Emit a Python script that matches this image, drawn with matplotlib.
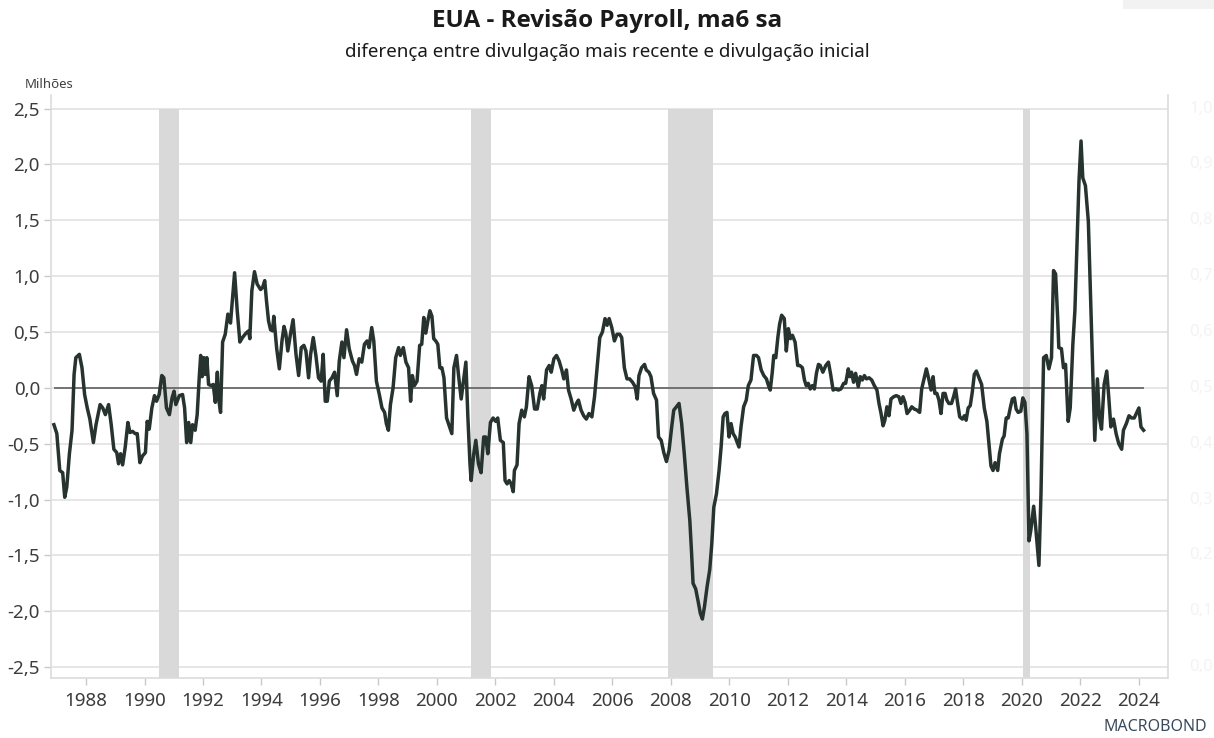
import matplotlib
matplotlib.use("Agg")
import matplotlib.pyplot as plt
from matplotlib.patches import Rectangle
import numpy as np

plt.rcParams['font.family'] = ['Noto Sans', 'DejaVu Sans']

# data (decimal year, millions)
years = [
    1986.90, 1987.00, 1987.10, 1987.20, 1987.27, 1987.34, 1987.43, 1987.52, 1987.59, 1987.65,
    1987.77, 1987.86, 1987.95, 1988.04, 1988.13, 1988.25, 1988.34, 1988.48, 1988.57, 1988.66,
    1988.77, 1988.86, 1988.95, 1989.05, 1989.11, 1989.18, 1989.25, 1989.34, 1989.43, 1989.50,
    1989.59, 1989.68, 1989.75, 1989.84, 1989.93, 1990.03, 1990.09, 1990.16, 1990.25, 1990.34,
    1990.41, 1990.50, 1990.59, 1990.66, 1990.75, 1990.85, 1990.94, 1991.01, 1991.07, 1991.19,
    1991.30, 1991.37, 1991.44, 1991.51, 1991.58, 1991.64, 1991.73, 1991.80, 1991.87, 1991.92,
    1991.97, 1992.03, 1992.08, 1992.13, 1992.19, 1992.28, 1992.35, 1992.42, 1992.49, 1992.53,
    1992.60, 1992.67, 1992.76, 1992.85, 1992.94, 1993.01, 1993.08, 1993.17, 1993.26, 1993.35,
    1993.47, 1993.56, 1993.60, 1993.67, 1993.76, 1993.85, 1993.97, 1994.04, 1994.11, 1994.17,
    1994.24, 1994.31, 1994.38, 1994.42, 1994.52, 1994.61, 1994.70, 1994.77, 1994.83, 1994.90,
    1994.99, 1995.08, 1995.18, 1995.27, 1995.36, 1995.45, 1995.52, 1995.61, 1995.68, 1995.77,
    1995.86, 1995.95, 1996.04, 1996.11, 1996.18, 1996.25, 1996.32, 1996.41, 1996.50, 1996.59,
    1996.66, 1996.75, 1996.82, 1996.91, 1997.00, 1997.11, 1997.18, 1997.25, 1997.34, 1997.43,
    1997.52, 1997.61, 1997.68, 1997.77, 1997.84, 1997.93, 1998.03, 1998.12, 1998.21, 1998.27,
    1998.34, 1998.41, 1998.50, 1998.59, 1998.69, 1998.75, 1998.85, 1998.94, 1999.03, 1999.10,
    1999.16, 1999.23, 1999.32, 1999.41, 1999.48, 1999.55, 1999.62, 1999.69, 1999.76, 1999.83,
    1999.89, 1999.96, 2000.03, 2000.10, 2000.17, 2000.24, 2000.33, 2000.42, 2000.51, 2000.58,
    2000.67, 2000.74, 2000.83, 2000.92, 2000.99, 2001.06, 2001.13, 2001.17, 2001.26, 2001.33,
    2001.42, 2001.51, 2001.60, 2001.67, 2001.74, 2001.83, 2001.92, 2002.01, 2002.08, 2002.17,
    2002.27, 2002.33, 2002.40, 2002.47, 2002.54, 2002.61, 2002.65, 2002.74, 2002.81, 2002.90,
    2002.99, 2003.06, 2003.15, 2003.24, 2003.34, 2003.43, 2003.52, 2003.59, 2003.65, 2003.75,
    2003.84, 2003.91, 2004.00, 2004.09, 2004.18, 2004.27, 2004.34, 2004.43, 2004.50, 2004.59,
    2004.68, 2004.77, 2004.84, 2004.93, 2005.02, 2005.11, 2005.20, 2005.30, 2005.39, 2005.48,
    2005.57, 2005.66, 2005.75, 2005.82, 2005.89, 2005.98, 2006.07, 2006.16, 2006.25, 2006.32,
    2006.41, 2006.50, 2006.59, 2006.69, 2006.78, 2006.85, 2006.91, 2007.00, 2007.10, 2007.16,
    2007.25, 2007.32, 2007.41, 2007.51, 2007.58, 2007.67, 2007.76, 2007.85, 2007.94, 2008.03,
    2008.10, 2008.19, 2008.28, 2008.37, 2008.46, 2008.55, 2008.65, 2008.71, 2008.76, 2008.85,
    2008.94, 2009.01, 2009.08, 2009.15, 2009.24, 2009.33, 2009.40, 2009.47, 2009.56, 2009.65,
    2009.72, 2009.79, 2009.85, 2009.92, 2009.99, 2010.06, 2010.13, 2010.20, 2010.27, 2010.33,
    2010.40, 2010.49, 2010.58, 2010.65, 2010.74, 2010.83, 2010.93, 2011.00, 2011.09, 2011.18,
    2011.27, 2011.34, 2011.40, 2011.47, 2011.52, 2011.59, 2011.66, 2011.72, 2011.79, 2011.88,
    2011.95, 2012.02, 2012.09, 2012.16, 2012.25, 2012.34, 2012.41, 2012.50, 2012.57, 2012.63,
    2012.70, 2012.77, 2012.84, 2012.91, 2012.98, 2013.05, 2013.11, 2013.20, 2013.30, 2013.39,
    2013.46, 2013.55, 2013.64, 2013.73, 2013.82, 2013.91, 2013.98, 2014.07, 2014.12, 2014.18,
    2014.25, 2014.32, 2014.41, 2014.48, 2014.55, 2014.62, 2014.69, 2014.78, 2014.87, 2014.96,
    2015.05, 2015.12, 2015.19, 2015.26, 2015.32, 2015.39, 2015.46, 2015.53, 2015.62, 2015.71,
    2015.80, 2015.87, 2015.94, 2016.01, 2016.08, 2016.17, 2016.24, 2016.33, 2016.42, 2016.51,
    2016.58, 2016.65, 2016.74, 2016.83, 2016.90, 2016.97, 2017.03, 2017.10, 2017.17, 2017.24,
    2017.31, 2017.38, 2017.44, 2017.51, 2017.60, 2017.67, 2017.74, 2017.81, 2017.88, 2017.97,
    2018.04, 2018.10, 2018.17, 2018.24, 2018.31, 2018.38, 2018.45, 2018.54, 2018.63, 2018.72,
    2018.81, 2018.88, 2018.95, 2019.02, 2019.09, 2019.18, 2019.24, 2019.34, 2019.40, 2019.47,
    2019.54, 2019.61, 2019.68, 2019.75, 2019.81, 2019.88, 2019.97, 2020.04, 2020.11, 2020.18,
    2020.25, 2020.31, 2020.41, 2020.48, 2020.54, 2020.59, 2020.66, 2020.75, 2020.84, 2020.93,
    2021.02, 2021.09, 2021.16, 2021.23, 2021.27, 2021.36, 2021.43, 2021.50, 2021.59, 2021.66,
    2021.75, 2021.82, 2021.89, 2021.96, 2022.03, 2022.09, 2022.18, 2022.28, 2022.34, 2022.41,
    2022.50, 2022.59, 2022.66, 2022.73, 2022.82, 2022.91, 2022.98, 2023.05, 2023.14, 2023.23,
    2023.32, 2023.42, 2023.48, 2023.58, 2023.67, 2023.76, 2023.85, 2023.94, 2024.01, 2024.08,
    2024.17,
]
revision = [
    -0.33, -0.41, -0.74, -0.76, -0.98, -0.89, -0.59, -0.38, 0.12, 0.27,
    0.30, 0.18, -0.06, -0.18, -0.28, -0.49, -0.33, -0.15, -0.18, -0.24,
    -0.15, -0.33, -0.55, -0.58, -0.68, -0.59, -0.69, -0.53, -0.31, -0.40,
    -0.39, -0.41, -0.41, -0.67, -0.61, -0.58, -0.30, -0.37, -0.18, -0.07,
    -0.12, -0.06, 0.11, 0.09, -0.18, -0.24, -0.09, -0.03, -0.15, -0.07,
    -0.06, -0.18, -0.49, -0.31, -0.49, -0.33, -0.38, -0.24, 0.09, 0.29,
    0.10, 0.27, 0.12, 0.27, 0.03, 0.02, 0.03, -0.13, 0.14, -0.09,
    -0.22, 0.41, 0.48, 0.66, 0.58, 0.81, 1.03, 0.69, 0.41, 0.45,
    0.49, 0.51, 0.44, 0.87, 1.04, 0.93, 0.88, 0.90, 0.96, 0.78,
    0.60, 0.52, 0.51, 0.64, 0.35, 0.17, 0.42, 0.55, 0.49, 0.33,
    0.48, 0.61, 0.30, 0.11, 0.36, 0.38, 0.33, 0.09, 0.30, 0.45,
    0.29, 0.09, 0.06, 0.30, -0.12, -0.12, 0.06, 0.09, 0.14, -0.07,
    0.24, 0.41, 0.27, 0.52, 0.35, 0.24, 0.20, 0.12, 0.26, 0.23,
    0.39, 0.42, 0.36, 0.54, 0.42, 0.06, -0.06, -0.18, -0.22, -0.32,
    -0.38, -0.15, 0.00, 0.27, 0.36, 0.29, 0.36, 0.23, 0.18, -0.12,
    0.11, 0.02, 0.06, 0.38, 0.39, 0.63, 0.49, 0.60, 0.69, 0.64,
    0.44, 0.42, 0.39, 0.18, 0.18, 0.09, -0.27, -0.34, -0.41, 0.18,
    0.29, 0.11, -0.10, 0.09, 0.23, -0.27, -0.68, -0.83, -0.59, -0.47,
    -0.68, -0.76, -0.44, -0.44, -0.59, -0.31, -0.27, -0.30, -0.27, -0.47,
    -0.49, -0.83, -0.86, -0.83, -0.86, -0.93, -0.74, -0.69, -0.32, -0.20,
    -0.26, -0.17, 0.10, 0.02, -0.19, -0.19, -0.05, 0.02, -0.10, 0.16,
    0.20, 0.14, 0.26, 0.29, 0.24, 0.16, 0.08, 0.16, -0.02, -0.10,
    -0.20, -0.14, -0.11, -0.20, -0.25, -0.28, -0.23, -0.26, -0.08, 0.18,
    0.45, 0.50, 0.62, 0.56, 0.62, 0.54, 0.42, 0.48, 0.48, 0.45,
    0.18, 0.08, 0.08, 0.05, 0.01, -0.10, 0.11, 0.18, 0.21, 0.16,
    0.14, 0.10, -0.05, -0.11, -0.44, -0.47, -0.58, -0.66, -0.56, -0.35,
    -0.20, -0.17, -0.14, -0.32, -0.59, -0.89, -1.19, -1.48, -1.75, -1.80,
    -1.92, -2.02, -2.07, -1.96, -1.78, -1.63, -1.40, -1.07, -0.95, -0.74,
    -0.53, -0.26, -0.23, -0.22, -0.44, -0.32, -0.41, -0.44, -0.49, -0.53,
    -0.35, -0.17, -0.11, 0.02, 0.07, 0.29, 0.29, 0.27, 0.16, 0.11,
    0.08, 0.02, -0.02, 0.14, 0.29, 0.27, 0.45, 0.57, 0.65, 0.62,
    0.33, 0.53, 0.44, 0.47, 0.41, 0.20, 0.20, 0.18, 0.07, 0.02,
    0.04, -0.01, 0.02, -0.01, 0.13, 0.21, 0.20, 0.14, 0.20, 0.23,
    0.13, -0.02, -0.01, -0.02, -0.01, 0.04, 0.04, 0.17, 0.10, 0.14,
    0.05, 0.13, 0.01, 0.10, 0.07, 0.11, 0.08, 0.09, 0.07, 0.02,
    -0.02, -0.14, -0.23, -0.34, -0.29, -0.17, -0.25, -0.10, -0.08, -0.07,
    -0.08, -0.14, -0.08, -0.13, -0.23, -0.20, -0.17, -0.19, -0.20, -0.22,
    -0.01, 0.07, 0.17, 0.07, -0.02, 0.10, -0.05, -0.05, -0.11, -0.23,
    -0.05, -0.05, -0.11, -0.14, -0.14, -0.08, -0.01, -0.14, -0.26, -0.28,
    -0.25, -0.29, -0.18, -0.16, -0.04, 0.12, 0.15, 0.09, 0.03, -0.18,
    -0.30, -0.50, -0.70, -0.74, -0.67, -0.74, -0.59, -0.46, -0.43, -0.27,
    -0.27, -0.18, -0.10, -0.09, -0.19, -0.22, -0.21, -0.09, -0.13, -0.41,
    -1.37, -1.28, -1.06, -1.25, -1.43, -1.59, -0.95, 0.27, 0.29, 0.17,
    0.27, 1.05, 1.02, 0.63, 0.36, 0.35, 0.18, 0.21, -0.30, -0.18,
    0.39, 0.69, 1.26, 1.85, 2.21, 1.88, 1.81, 1.49, 0.96, 0.36,
    -0.47, 0.08, -0.27, -0.37, 0.03, 0.15, -0.09, -0.35, -0.28, -0.41,
    -0.50, -0.55, -0.38, -0.32, -0.25, -0.27, -0.27, -0.22, -0.18, -0.35,
    -0.38,
]

# NBER recessions
rec_start = [1990.50, 2001.17, 2007.90, 2020.05]
rec_end = [1991.17, 2001.86, 2009.45, 2020.28]

yticks = [2.5, 2.0, 1.5, 1.0, 0.5, 0.0, -0.5, -1.0, -1.5, -2.0, -2.5]
xticks = list(range(1988, 2025, 2))
ghost_ticks = [1.0, 0.9, 0.8, 0.7, 0.6, 0.5, 0.4, 0.3, 0.2, 0.1, 0.0]

line_col = '#26332f'
grid_col = '#e4e4e4'
text_col = '#3c3c3c'

fig = plt.figure(figsize=(12.14, 7.38), dpi=100)
ax = fig.add_axes([0.042, 0.081, 0.920, 0.790])
ylo, yhi = -2.6, 2.62
ax.set_xlim(1986.8, 2025.0)
ax.set_ylim(ylo, yhi)

for s, e in zip(rec_start, rec_end):
    ax.fill_betweenx([ylo, 2.5], s, e, color='#d9d9d9', lw=0, zorder=1)

for v in yticks:
    ax.axhline(v, color=grid_col, lw=1.3, zorder=0)
ax.hlines(0, years[0], years[-1], color='#555555', lw=1.1, zorder=2)
ax.plot(years, revision, color=line_col, lw=2.5, zorder=3, solid_joinstyle='round')

ax.set_yticks(yticks)
ax.set_yticklabels([f"{v:.1f}".replace('.', ',') for v in yticks])
ax.set_xticks(xticks)
ax.set_xticklabels([str(x) for x in xticks])
ax.tick_params(axis='both', colors='#c8c8c8', labelcolor=text_col, labelsize=13.5, length=5, width=1)
ax.tick_params(axis='y', pad=3)
ax.tick_params(axis='x', pad=5)

for side in ['left', 'bottom', 'right']:
    ax.spines[side].set_color('#dcdcdc')
    ax.spines[side].set_linewidth(1.2)
ax.spines['top'].set_visible(False)

# faint secondary-axis labels on the right
for v, g in zip(yticks, ghost_ticks):
    fig.text(0.999, ax.transAxes.transform((0, (v - ylo) / (yhi - ylo)))[1] / fig.bbox.height,
             f"{g:.1f}".replace('.', ','), ha='right', va='center', fontsize=12,
             color='#f3f3f3', fontweight='bold')

fig.text(0.5, 0.971, "EUA - Revisão Payroll, ma6 sa", ha='center', va='center',
         fontsize=17.5, fontweight='bold', color='#1a1a1a', family=['Open Sans', 'DejaVu Sans'])
fig.text(0.5, 0.930, "diferença entre divulgação mais recente e divulgação inicial", ha='center',
         va='center', fontsize=13.5, color='#1a1a1a')
fig.text(0.020, 0.886, "Milhões", ha='left', va='center', fontsize=9.5, color='#404040')
fig.text(0.994, 0.015, "MACROBOND", ha='right', va='center', fontsize=11.5, color='#3a4a5c')
fig.patches.append(Rectangle((0.925, 0.988), 0.075, 0.012, transform=fig.transFigure,
                             color='#f2f2f2', lw=0))

plt.savefig('out.png', dpi=100)
plt.close()
